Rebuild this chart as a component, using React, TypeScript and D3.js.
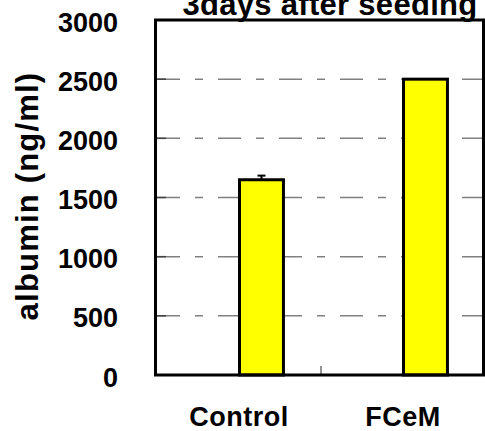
import React from "react";
import * as d3 from "d3";

const categories = ["Control", "FCeM"];
const albuminMean = [1650, 2500];
const albuminErr = [35, 0];
const yTicks = [0, 500, 1000, 1500, 2000, 2500, 3000];
const titleText = "3days after seeding";
const yAxisTitle = "albumin (ng/ml)";

const W = 485;
const H = 431;
const FONT = "'Liberation Sans', Arial, sans-serif";

export default function App() {
  const y = d3.scaleLinear().domain([0, 3000]).range([375, 20]);
  const x = d3.scaleBand<string>().domain(categories).range([157, 485]);
  const bw = x.bandwidth();
  const barW = bw * 0.268;
  const frameLeft = 155.5;
  const frameRight = 483.5;

  return (
    <svg
      width={W}
      height={H}
      style={{ position: "absolute", left: 0, top: 0, background: "#fff" }}
      fontFamily={FONT}
    >
      <rect x={0} y={0} width={W} height={H} fill="#fff" />
      {/* gridlines */}
      {yTicks
        .filter((t) => t > 0 && t < 3000)
        .map((t) => (
          <g key={"g" + t}>
            <line
              x1={157}
              x2={frameRight - 1.5}
              y1={y(t)}
              y2={y(t)}
              stroke="#808080"
              strokeWidth={1.5}
              strokeDasharray="23,15,8,15"
            />
            <line x1={157} x2={166} y1={y(t)} y2={y(t)} stroke="#404040" strokeWidth={1.5} />
          </g>
        ))}
      {/* category separator tick */}
      {categories.slice(1).map((c) => (
        <line
          key={"ct" + c}
          x1={x(c)!}
          x2={x(c)!}
          y1={y(0) - 9}
          y2={y(0)}
          stroke="#707070"
          strokeWidth={1.5}
        />
      ))}
      {/* bars */}
      {categories.map((c, i) => {
        const bx = x(c)! + bw / 2 + 0.5;
        return (
          <g key={"b" + c}>
            {albuminErr[i] > 0 && (
              <g stroke="#000" strokeWidth={2}>
                <line
                  x1={bx + barW / 2}
                  x2={bx + barW / 2}
                  y1={y(albuminMean[i])}
                  y2={y(albuminMean[i] + albuminErr[i])}
                />
                <line
                  x1={bx + barW / 2 - 4}
                  x2={bx + barW / 2 + 4}
                  y1={y(albuminMean[i] + albuminErr[i])}
                  y2={y(albuminMean[i] + albuminErr[i])}
                />
              </g>
            )}
            <rect
              x={bx}
              y={y(albuminMean[i])}
              width={barW}
              height={y(0) - y(albuminMean[i])}
              fill="#FFFF00"
              stroke="#000"
              strokeWidth={3}
            />
          </g>
        );
      })}
      {/* frame */}
      <rect
        x={frameLeft}
        y={y(3000)}
        width={frameRight - frameLeft}
        height={y(0) - y(3000)}
        fill="none"
        stroke="#000"
        strokeWidth={3}
      />
      {/* y tick labels */}
      {yTicks.map((t) => (
        <text
          key={"yl" + t}
          x={118}
          y={y(t) + 11.5}
          textAnchor="end"
          fontSize={27}
          fontWeight="bold"
          fill="#000"
        >
          {t}
        </text>
      ))}
      {/* category labels */}
      {categories.map((c) => (
        <text
          key={"cl" + c}
          x={x(c)! + bw / 2}
          y={426}
          textAnchor="middle"
          fontSize={27}
          fontWeight="bold"
          letterSpacing={0.5}
          fill="#000"
        >
          {c}
        </text>
      ))}
      {/* y axis title */}
      <text
        transform="translate(38,196) rotate(-90)"
        textAnchor="middle"
        fontSize={31}
        fontWeight="bold"
        letterSpacing={1.2}
        fill="#000"
      >
        {yAxisTitle}
      </text>
      {/* title */}
      <text
        x={330}
        y={15}
        textAnchor="middle"
        fontSize={31}
        fontWeight="bold"
        letterSpacing={0.3}
        fill="#000"
      >
        {titleText}
      </text>
    </svg>
  );
}
